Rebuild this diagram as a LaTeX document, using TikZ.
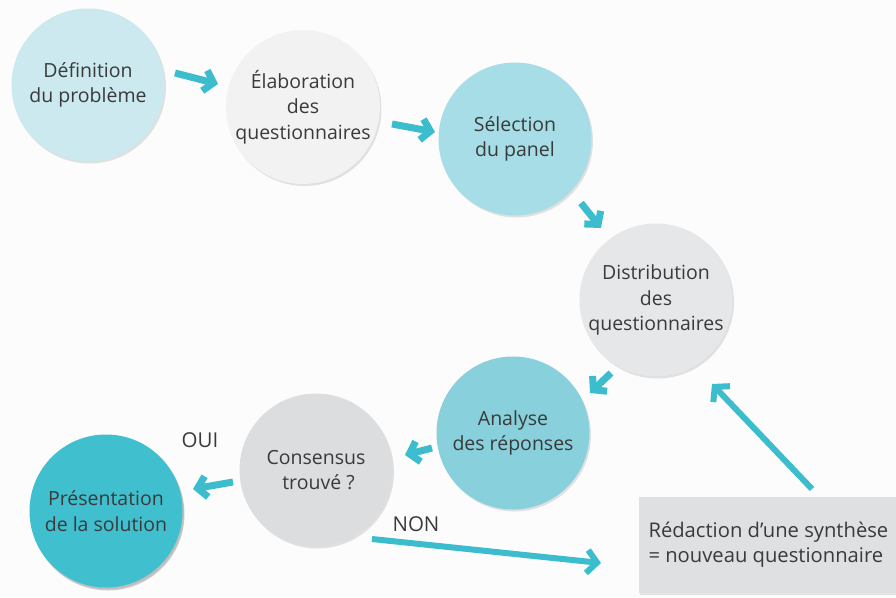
\documentclass[tikz,border=0pt]{standalone}
\usepackage{fontspec}
\setmainfont{Open Sans}
\usetikzlibrary{arrows.meta,shadows}
\definecolor{bgc}{HTML}{FCFCFC}
\definecolor{txt}{HTML}{3A3A3A}
\definecolor{arr}{HTML}{3BBDCD}
\definecolor{cA}{HTML}{CBE9EE}
\definecolor{cB}{HTML}{F2F2F2}
\definecolor{cC}{HTML}{A6DDE6}
\definecolor{cD}{HTML}{E6E7E9}
\definecolor{cE}{HTML}{87D0DC}
\definecolor{cF}{HTML}{DCDDDF}
\definecolor{cG}{HTML}{40BFCF}
\definecolor{cR}{HTML}{DFE0E2}
\tikzset{
  stage/.style={circle, minimum size=153pt, inner sep=0pt, align=center,
    text=txt, font=\fontsize{19.5}{25.5}\selectfont,
    drop shadow={shadow xshift=1.5pt, shadow yshift=-2pt, opacity=0.22}},
  flow/.style={draw=arr, line width=7pt,
    -{Straight Barb[length=9pt, width=21pt]}},
  longflow/.style={draw=arr, line width=6pt,
    -{Straight Barb[length=10pt, width=23pt]}},
  tag/.style={text=txt, font=\fontsize{20.5}{24}\selectfont}
}
\begin{document}
\begin{tikzpicture}[x=1pt, y=-1pt]
\fill[bgc] (0,0) rectangle (896,597);
\useasboundingbox (0,0) rectangle (896,597);

% process stages
\node[stage, fill=cA] (def) at (88,85) {Définition\\du problème};
\node[stage, fill=cB] (ela) at (303,107) {Élaboration\\des\\questionnaires};
\node[stage, fill=cC] (sel) at (515,139) {Sélection\\du panel};
\node[stage, fill=cD] (dis) at (656,300) {Distribution\\des\\questionnaires};
\node[stage, fill=cE] (ana) at (513,433) {Analyse\\des réponses};
\node[stage, fill=cF] (con) at (316,470) {Consensus\\\ trouvé ?};
\node[stage, fill=cG, drop shadow={shadow xshift=2pt, shadow yshift=-3pt, opacity=0.35}]
  (pre) at (106,511) {Présentation\\de la solution};

% synthesis box
\node[fill=cR, minimum width=260pt, minimum height=96pt, anchor=north west,
  drop shadow={shadow xshift=1pt, shadow yshift=-2pt, opacity=0.18}] (syn) at (639,497) {};
\node[anchor=west, align=left, text=txt, font=\fontsize{20.2}{25}\selectfont]
  (syntxt) at (645,545) {Rédaction d’une synthèse\\= nouveau questionnaire};

% arrow end points
\coordinate (a1s) at (175,73);  \coordinate (a1e) at (218,84);
\coordinate (a2s) at (392,124); \coordinate (a2e) at (435,132);
\coordinate (a3s) at (581,203); \coordinate (a3e) at (601,228);
\coordinate (a4s) at (611,373); \coordinate (a4e) at (590,393);
\coordinate (a5s) at (432,448); \coordinate (a5e) at (405,455);
\coordinate (a6s) at (233,482); \coordinate (a6e) at (193,489);
\coordinate (a7s) at (372,539); \coordinate (a7e) at (601,563);
\coordinate (a8s) at (812,489); \coordinate (a8e) at (712,384);

\draw[flow] (a1s) -- (a1e);
\draw[flow] (a2s) -- (a2e);
\draw[flow] (a3s) -- (a3e);
\draw[flow] (a4s) -- (a4e);
\draw[flow] (a5s) -- (a5e);
\draw[flow] (a6s) -- (a6e);
\draw[longflow] (a7s) -- (a7e);
\draw[longflow] (a8s) -- (a8e);

% decision labels
\node[tag] (oui) at (200,440) {OUI};
\node[tag] (non) at (416,524) {NON};
\end{tikzpicture}
\end{document}
